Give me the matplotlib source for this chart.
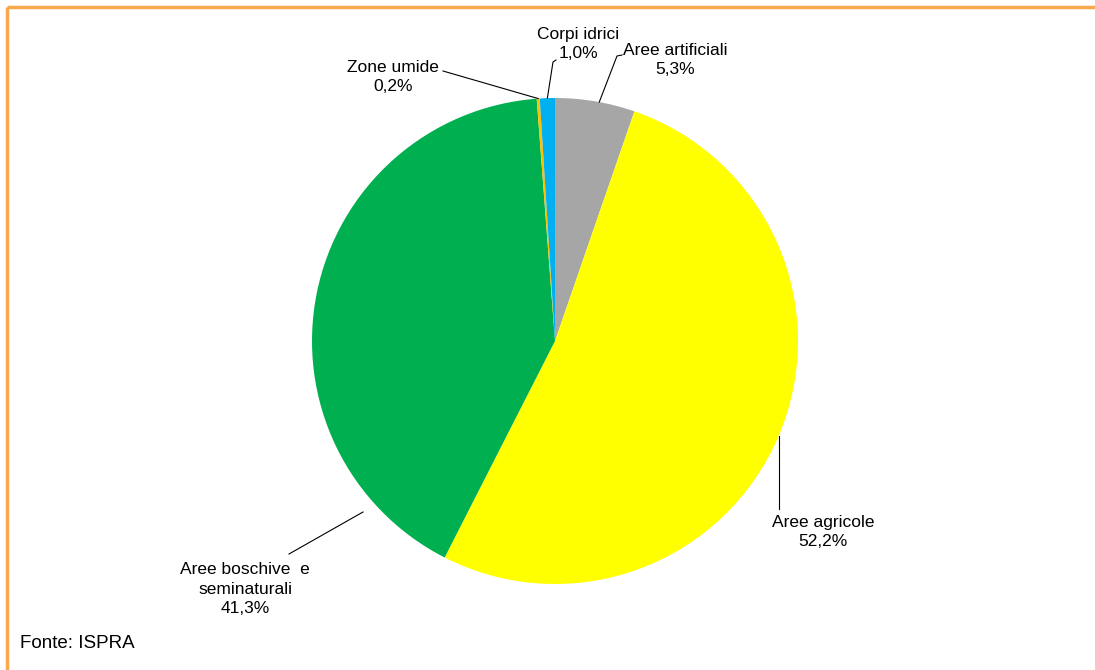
import numpy as np
import matplotlib
matplotlib.use("Agg")
import matplotlib.pyplot as plt

categories = ["Aree artificiali", "Aree agricole", "Aree boschive  e\nseminaturali", "Zone umide", "Corpi idrici"]
values = [5.3, 52.2, 41.3, 0.2, 1.0]
pct_labels = ["5,3%", "52,2%", "41,3%", "0,2%", "1,0%"]
colors = ["#A6A6A6", "#FFFF00", "#00B050", "#FFC000", "#00B0F0"]

W, H = 1095, 670
fig = plt.figure(figsize=(W / 100, H / 100), dpi=100)
ax = fig.add_axes([0, 0, 1, 1])

cx, cy, r = 555, H - 341, 243
wedges, _ = ax.pie(values, colors=colors, startangle=90, counterclock=False,
                   center=(cx, cy), radius=r, frame=True,
                   wedgeprops=dict(linewidth=0))
ax.set_xlim(0, W)
ax.set_ylim(0, H)
ax.set_aspect("equal")
ax.axis("off")

font = dict(family=["Liberation Sans", "DejaVu Sans"], fontsize=12.5, color="black")

# label layout: text block centre (pixels from top-left) and leader path
layout = {
    0: dict(tx=675, ty=60, path=[(617, 56), (622, 55)], anchor_frac=0.45),
    1: dict(tx=823, ty=532, path=[(779, 509)], anchor=(779, 436)),
    2: dict(tx=245, ty=589, path=[(289, 554)], anchor=(363, 512)),
    3: dict(tx=393, ty=77, path=[(443, 71)], anchor_frac=0.5),
    4: dict(tx=578, ty=44, path=[(553, 62), (556, 60)], anchor_frac=0.5),
}

for i, w in enumerate(wedges):
    lay = layout[i]
    if "anchor" in lay:
        ax_, ay_ = lay["anchor"]
        pts = [(ax_, H - ay_)]
    else:
        ang = np.deg2rad(w.theta1 + (w.theta2 - w.theta1) * lay["anchor_frac"])
        pts = [(cx + r * np.cos(ang), cy + r * np.sin(ang))]
    pts += [(x, H - y) for x, y in lay["path"]]
    xs, ys = zip(*pts)
    ax.plot(xs, ys, color="black", lw=0.8)
    ax.text(lay["tx"], H - lay["ty"], categories[i] + "\n" + pct_labels[i],
            ha="center", va="center", linespacing=1.4, **font)

ax.text(20, H - 643, "Fonte: ISPRA", ha="left", va="center",
        family=["Liberation Sans", "DejaVu Sans"], fontsize=13.5, color="black")

# orange frame (top and left)
ax.plot([7, W], [H - 7, H - 7], color="#F9A94B", lw=2.5, solid_capstyle="butt")
ax.plot([7, 7], [H - 7, 0], color="#F9A94B", lw=2.5, solid_capstyle="butt")

fig.savefig("out.png", dpi=100, facecolor="white")
